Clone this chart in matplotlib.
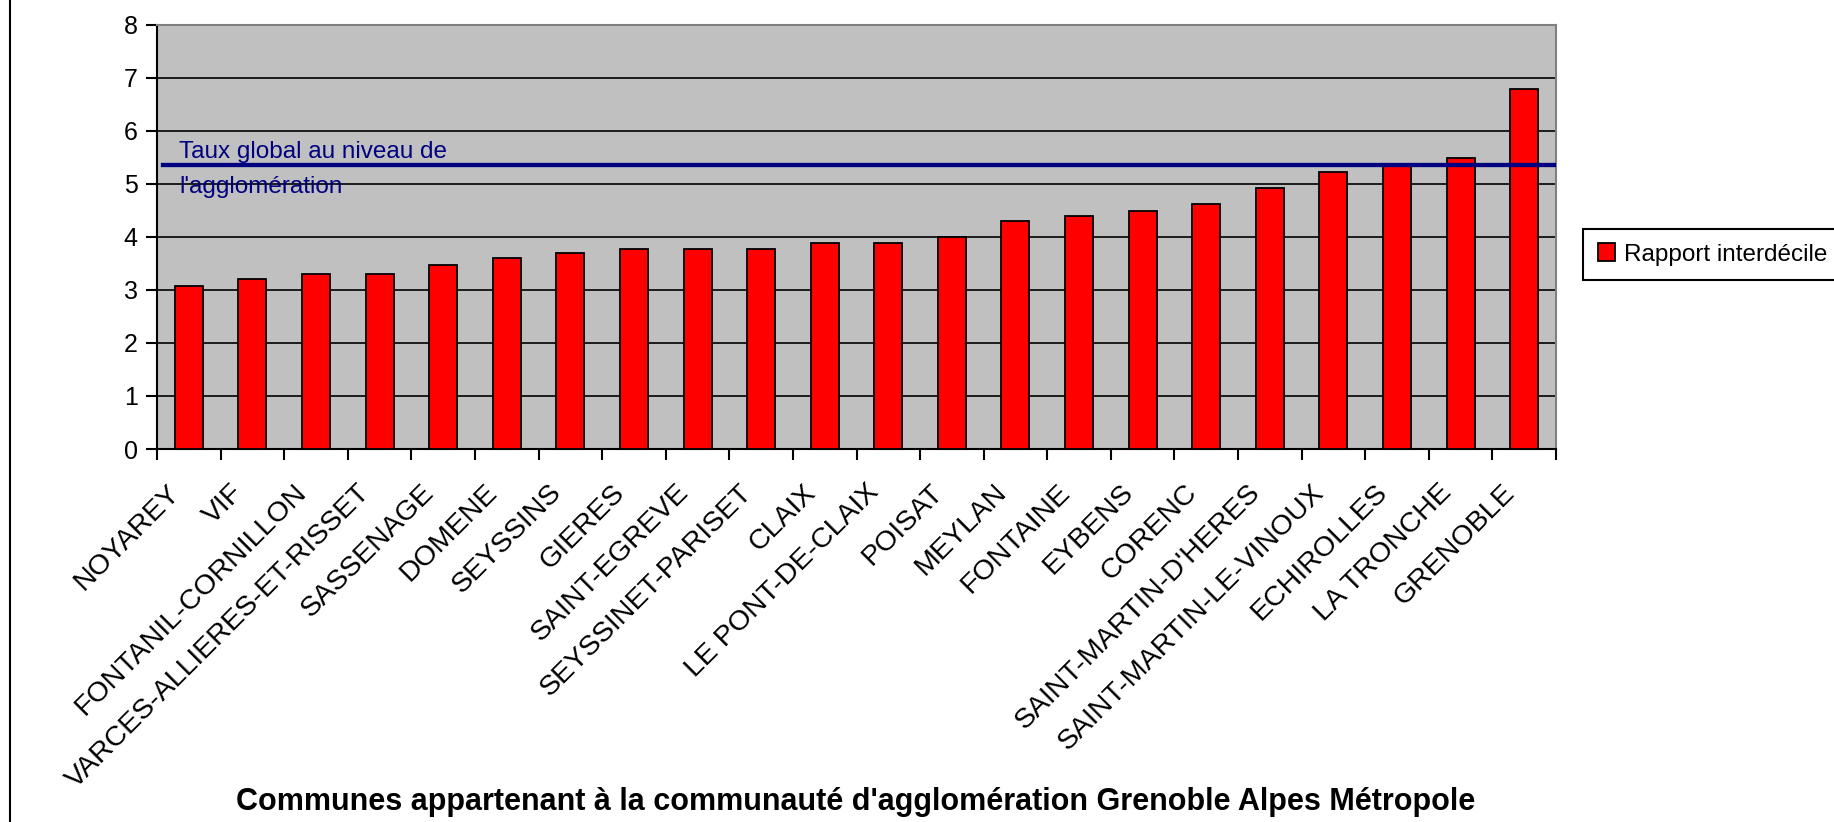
import numpy as np
import matplotlib
matplotlib.use("Agg")
import matplotlib.pyplot as plt
from matplotlib.lines import Line2D
from matplotlib.transforms import ScaledTranslation

plt.rcParams["font.family"] = ["Liberation Sans", "DejaVu Sans"]

# Data
communes = ["NOYAREY", "VIF", "FONTANIL-CORNILLON", "VARCES-ALLIERES-ET-RISSET",
            "SASSENAGE", "DOMENE", "SEYSSINS", "GIERES", "SAINT-EGREVE",
            "SEYSSINET-PARISET", "CLAIX", "LE PONT-DE-CLAIX", "POISAT", "MEYLAN",
            "FONTAINE", "EYBENS", "CORENC", "SAINT-MARTIN-D'HERES",
            "SAINT-MARTIN-LE-VINOUX", "ECHIROLLES", "LA TRONCHE", "GRENOBLE"]
rapport = [3.08, 3.21, 3.3, 3.3, 3.47, 3.6, 3.69, 3.77, 3.77, 3.77, 3.89, 3.89,
           3.99, 4.3, 4.39, 4.48, 4.62, 4.91, 5.22, 5.38, 5.48, 6.78]
taux_global = 5.36

fig = plt.figure(figsize=(18.34, 8.22), dpi=100)
ax = fig.add_axes([157 / 1834, 1 - 449 / 822, (1556 - 157) / 1834, (449 - 24.5) / 822])
ax.set_facecolor("#C0C0C0")

x = np.arange(len(communes))
ax.bar(x, rapport, width=0.44, color="#FF0000", edgecolor="black", linewidth=1.3,
       label="Rapport interdécile", zorder=3)

ax.set_xlim(-0.5, len(communes) - 0.5)
ax.set_ylim(0, 8)
ax.set_yticks(range(0, 9))
ax.yaxis.grid(True, color="black", linewidth=1.2, zorder=1)
ax.set_axisbelow(True)

# horizontal line for the global rate
ax.axhline(taux_global, xmin=0.004, xmax=1, color="#000080", linewidth=3.1, zorder=4)
ax.text(0.016, taux_global - 0.09, "Taux global au niveau de\nl'agglomération",
        transform=ax.get_yaxis_transform(), color="#000080", fontsize=17.5,
        va="center", ha="left", linespacing=1.75, zorder=2)

# ticks
ax.set_xticks(x)
ax.set_xticklabels(communes, rotation=45, ha="right", va="baseline",
                   rotation_mode="anchor", fontsize=20.5)
ax.set_xticks(np.arange(-0.5, len(communes)), minor=True)
ax.tick_params(axis="x", which="major", length=0, pad=32)
ax.tick_params(axis="x", which="minor", length=8, width=1.5, direction="out")
ax.tick_params(axis="y", length=8, width=1.5, labelsize=18, pad=6)

# nudge the rotated labels a bit to the left (after tick_params, which resets transforms)
shift = ScaledTranslation(-6 / 72, 0, fig.dpi_scale_trans)
for lab in ax.get_xticklabels():
    lab.set_transform(lab.get_transform() + shift)

for s in ["left", "bottom"]:
    ax.spines[s].set_color("black")
    ax.spines[s].set_linewidth(1.5)
for s in ["top", "right"]:
    ax.spines[s].set_color("#808080")
    ax.spines[s].set_linewidth(1.5)

fig.text(856 / 1834, 1 - 802 / 822,
         "Communes appartenant à la communauté d'agglomération Grenoble Alpes Métropole",
         ha="center", va="center", fontsize=22, fontweight="bold")

leg = fig.legend(loc="center left", bbox_to_anchor=(1583 / 1834, 1 - 254.5 / 822),
                 fontsize=17.5, fancybox=False, edgecolor="black", framealpha=1,
                 handlelength=0.7, handleheight=0.7, handletextpad=0.4,
                 borderpad=0.6, borderaxespad=0)
leg.get_frame().set_linewidth(1.5)

# left border of the chart area
fig.add_artist(Line2D([10 / 1834, 10 / 1834], [0, 1], color="black", linewidth=1.5))

fig.savefig("out.png", dpi=100)
